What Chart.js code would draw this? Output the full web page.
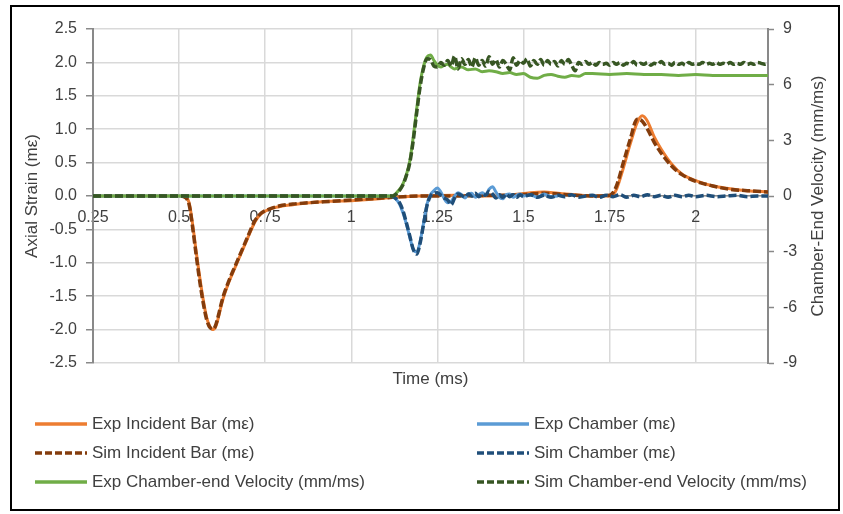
<!DOCTYPE html>
<html>
<head>
<meta charset="utf-8">
<script src="https://cdn.jsdelivr.net/npm/chart.js@4/dist/chart.umd.min.js"></script>
<style>
  html, body { margin: 0; padding: 0; background: #fff; }
  body { width: 843px; height: 514px; position: relative; overflow: hidden; font-family: "Liberation Sans", Arial, sans-serif; }
  #wrap { position: absolute; left: 0; top: 0; width: 843px; height: 395px; }
  #frame { position: absolute; left: 10px; top: 5px; width: 830px; height: 506px; border: 2.5px solid #000; box-sizing: border-box; pointer-events: none; }
  #legend { position: absolute; left: 0; top: 0; width: 843px; height: 514px; pointer-events: none; }
  .li { position: absolute; display: flex; align-items: center; height: 24px; font-size: 17px; color: #404040; white-space: nowrap; }
  .li svg { margin-right: 5px; }
</style>
</head>
<body>
<div id="wrap"><canvas id="c" width="843" height="395"></canvas></div>
<div id="legend"></div>
<div id="frame"></div>
<script>
// ---------- Data ----------
const xTicks = [0.25, 0.5, 0.75, 1, 1.25, 1.5, 1.75, 2];
const xTickLabels = ['0.25', '0.5', '0.75', '1', '1.25', '1.5', '1.75', '2'];
const yTicks = [-2.5, -2, -1.5, -1, -0.5, 0, 0.5, 1, 1.5, 2, 2.5];
const yTickLabels = ['-2.5', '-2.0', '-1.5', '-1.0', '-0.5', '0.0', '0.5', '1.0', '1.5', '2.0', '2.5'];
const y2Ticks = [-9, -6, -3, 0, 3, 6, 9];
const y2TickLabels = ['-9', '-6', '-3', '0', '3', '6', '9'];

// Incident bar strain (mε)
const tInc = [0.25, 0.50, 0.52, 0.53, 0.54, 0.55, 0.56, 0.57, 0.58, 0.59,
  0.60, 0.605, 0.61, 0.615, 0.62, 0.625, 0.63, 0.64, 0.65, 0.66,
  0.67, 0.68, 0.69, 0.70, 0.71, 0.72, 0.73, 0.74, 0.76, 0.79,
  0.83, 0.88, 0.94, 1.00, 1.06, 1.12, 1.20, 1.30, 1.40, 1.47,
  1.52, 1.56, 1.60, 1.65, 1.70, 1.75, 1.76, 1.77, 1.79, 1.81,
  1.83, 1.845, 1.86, 1.88, 1.90, 1.93, 1.96, 2.00, 2.05, 2.10,
  2.15, 2.21];
const expIncident = [0, 0, -0.02, -0.12, -0.45, -0.85, -1.22, -1.55, -1.82, -1.96,
  -2.0, -1.97, -1.9, -1.8, -1.69, -1.59, -1.5, -1.35, -1.22, -1.1,
  -0.98, -0.86, -0.74, -0.62, -0.5, -0.39, -0.31, -0.26, -0.2, -0.16,
  -0.13, -0.1, -0.08, -0.07, -0.05, -0.02, 0, 0.01, 0, 0.02,
  0.05, 0.06, 0.04, 0.02, 0, 0, 0.02, 0.1, 0.42, 0.78,
  1.1, 1.2, 1.12, 0.88, 0.7, 0.48, 0.33, 0.23, 0.15, 0.11,
  0.08, 0.06];
const simIncident = [0, 0, -0.03, -0.15, -0.5, -0.9, -1.28, -1.6, -1.85, -1.97,
  -1.99, -1.95, -1.87, -1.77, -1.66, -1.56, -1.47, -1.33, -1.2, -1.08,
  -0.96, -0.84, -0.72, -0.6, -0.48, -0.37, -0.3, -0.25, -0.2, -0.15,
  -0.12, -0.1, -0.08, -0.06, -0.04, -0.02, 0, 0, 0.01, 0.01,
  0.03, 0.04, 0.03, 0.01, 0, 0.01, 0.05, 0.15, 0.5, 0.85,
  1.15, 1.12, 1.0, 0.8, 0.64, 0.45, 0.32, 0.22, 0.15, 0.1,
  0.08, 0.06];

// Chamber strain (mε)
const tChamExp = [0.25, 1.11, 1.12, 1.13, 1.14, 1.15, 1.16, 1.17, 1.18, 1.19,
  1.20, 1.21, 1.22, 1.23, 1.24, 1.25, 1.26, 1.27, 1.28, 1.29,
  1.30, 1.31, 1.32, 1.33, 1.34, 1.35, 1.36, 1.37, 1.38, 1.39,
  1.40, 1.41, 1.42, 1.43, 1.44, 1.45, 1.46, 1.47, 1.48, 1.49,
  1.50, 1.52, 1.54, 1.56, 1.58, 1.60];
const expChamber = [0, 0, -0.01, -0.05, -0.12, -0.25, -0.42, -0.62, -0.8, -0.84,
  -0.68, -0.4, -0.12, 0.02, 0.08, 0.12, 0.06, -0.04, -0.1, -0.08,
  0, 0.05, 0.02, -0.03, 0.03, 0.04, -0.02, 0.02, 0.05, 0.02,
  0.1, 0.14, 0.06, -0.02, -0.04, 0.02, 0.03, -0.02, 0.01, 0.03,
  0, 0.02, -0.02, 0.03, -0.01, 0];
const tChamSim = [0.25, 1.11, 1.12, 1.13, 1.14, 1.15, 1.16, 1.17, 1.18, 1.19,
  1.20, 1.21, 1.22, 1.23, 1.24, 1.25, 1.26, 1.27, 1.28, 1.29,
  1.30, 1.31, 1.32, 1.33, 1.34, 1.35, 1.36, 1.37, 1.38, 1.39,
  1.40, 1.41, 1.42, 1.43, 1.44, 1.45, 1.46, 1.47, 1.48, 1.49,
  1.50, 1.52, 1.54, 1.56, 1.58, 1.60, 1.62, 1.64, 1.66, 1.68,
  1.70, 1.72, 1.74, 1.76, 1.78, 1.80, 1.82, 1.84, 1.86, 1.88,
  1.90, 1.92, 1.94, 1.96, 1.98, 2.00, 2.03, 2.06, 2.09, 2.12,
  2.15, 2.18, 2.21];
const simChamber = [0, 0, -0.01, -0.04, -0.1, -0.22, -0.4, -0.6, -0.8, -0.87,
  -0.7, -0.42, -0.14, 0, 0.04, 0.05, 0.01, -0.03, -0.06, -0.13,
  -0.03, 0.03, 0.01, -0.02, 0.03, 0, 0.04, -0.01, 0.03, 0.01,
  0.07, 0.03, -0.03, 0.02, -0.02, 0.03, -0.01, 0.02, -0.02, 0.02,
  -0.01, 0.02, -0.02, 0.01, -0.02, 0.01, -0.01, 0.02, -0.02, 0,
  0.01, -0.02, 0.01, -0.01, 0.02, -0.02, 0.01, -0.01, 0.02, -0.01,
  0.01, -0.02, 0.01, -0.01, 0.01, -0.01, 0.01, -0.01, 0, 0.01,
  -0.01, 0, 0];

// Chamber-end velocity (mm/ms)
const tVelExp = [0.25, 1.11, 1.12, 1.13, 1.14, 1.15, 1.16, 1.17, 1.18, 1.19,
  1.20, 1.21, 1.22, 1.23, 1.24, 1.25, 1.26, 1.27, 1.28, 1.29,
  1.30, 1.32, 1.34, 1.36, 1.38, 1.40, 1.42, 1.44, 1.46, 1.48,
  1.50, 1.52, 1.54, 1.56, 1.58, 1.60, 1.62, 1.64, 1.66, 1.68,
  1.70, 1.75, 1.80, 1.85, 1.90, 1.95, 2.00, 2.05, 2.10, 2.15,
  2.21];
const expVelocity = [0, 0, 0, 0.15, 0.35, 0.65, 1.15, 1.9, 3.2, 4.7,
  6.1, 7.0, 7.5, 7.6, 7.3, 7.05, 6.95, 7.05, 7.1, 6.95,
  6.85, 6.95, 6.8, 6.85, 6.7, 6.75, 6.7, 6.6, 6.65, 6.55,
  6.6, 6.4, 6.35, 6.5, 6.55, 6.45, 6.4, 6.5, 6.45, 6.6,
  6.6, 6.55, 6.6, 6.55, 6.55, 6.5, 6.55, 6.5, 6.5, 6.5,
  6.5];
const tVelSim = [0.25, 1.11,
  1.12, 1.13, 1.14, 1.15, 1.16, 1.17, 1.18, 1.19, 1.20, 1.21,
  1.22, 1.23, 1.24, 1.25, 1.26, 1.27, 1.28, 1.29, 1.30, 1.31,
  1.32, 1.33, 1.34, 1.35, 1.36, 1.37, 1.38, 1.39, 1.40, 1.41,
  1.42, 1.43, 1.44, 1.45, 1.46, 1.47, 1.48, 1.49, 1.50, 1.51,
  1.52, 1.53, 1.54, 1.55, 1.56, 1.57, 1.58, 1.59, 1.60, 1.61,
  1.62, 1.63, 1.64, 1.65, 1.66, 1.67, 1.68, 1.69, 1.70, 1.71,
  1.72, 1.73, 1.74, 1.75, 1.76, 1.77, 1.78, 1.79, 1.80, 1.81,
  1.82, 1.83, 1.84, 1.85, 1.86, 1.87, 1.88, 1.89, 1.90, 1.91,
  1.92, 1.93, 1.94, 1.95, 1.96, 1.97, 1.98, 1.99, 2.00, 2.01,
  2.02, 2.03, 2.04, 2.05, 2.06, 2.07, 2.08, 2.09, 2.10, 2.11,
  2.12, 2.13, 2.14, 2.15, 2.16, 2.17, 2.18, 2.19, 2.20, 2.21];
const simVelocity = [0, 0,
  0, 0.1, 0.3, 0.6, 1.1, 1.8, 3.0, 4.5, 5.9, 6.9,
  7.4, 7.35, 7.0, 6.95, 7.2, 7.05, 7.3, 7.0, 7.55, 6.85,
  7.4, 7.1, 7.35, 6.95, 7.45, 7.05, 7.3, 7.0, 7.5, 7.1,
  7.35, 6.95, 7.3, 7.1, 6.8, 7.45, 7.05, 7.3, 7.15, 7.4,
  7.0, 7.3, 7.1, 7.35, 7.05, 7.3, 7.1, 7.25, 7.0, 7.3,
  7.1, 7.35, 7.05, 6.75, 7.2, 7.1, 7.25, 7.1, 7.2, 7.05,
  7.2, 7.1, 7.15, 7.05, 7.2, 7.1, 7.2, 7.05, 7.15, 7.1,
  7.25, 7.05, 7.15, 7.1, 7.2, 7.05, 7.15, 7.1, 7.25, 7.1,
  7.15, 7.05, 7.2, 7.1, 7.15, 7.05, 7.2, 7.1, 7.15, 7.1,
  7.2, 7.1, 7.15, 7.1, 7.2, 7.1, 7.15, 7.1, 7.2, 7.1,
  7.15, 7.1, 7.2, 7.1, 7.15, 7.1, 7.2, 7.15, 7.1, 7.15];

const seriesLabels = ['Exp Incident Bar (mε)', 'Sim Incident Bar (mε)', 'Exp Chamber (mε)',
  'Sim Chamber (mε)', 'Exp Chamber-end Velocity (mm/ms)', 'Sim Chamber-end Velocity (mm/ms)'];

// ---------- Chart ----------
function pts(t, v) { return t.map((x, i) => ({ x: x, y: v[i] })); }

const FONT = '"Liberation Sans", Arial, sans-serif';
Chart.defaults.font.family = FONT;
const AXIS = '#898989', GRID = '#d9d9d9', TXT = '#404040';
const DASH = [8, 3];

function ds(label, t, v, color, dashed, axis, order) {
  return {
    label: label, data: pts(t, v), borderColor: color, backgroundColor: color,
    borderWidth: dashed ? 3.5 : 3, borderDash: dashed ? DASH : [],
    pointRadius: 0, cubicInterpolationMode: 'monotone', fill: false,
    xAxisID: 'x', yAxisID: axis, order: order
  };
}

const datasets = [
  ds(seriesLabels[0], tInc, expIncident, '#ed7d31', false, 'y', 5),
  ds(seriesLabels[1], tInc, simIncident, '#843c0c', true, 'y', 4),
  ds(seriesLabels[2], tChamExp, expChamber, '#5b9bd5', false, 'y', 3),
  ds(seriesLabels[3], tChamSim, simChamber, '#1f4e79', true, 'y', 2),
  ds(seriesLabels[4], tVelExp, expVelocity, '#70ad47', false, 'y2', 1),
  ds(seriesLabels[5], tVelSim, simVelocity, '#375623', true, 'y2', 0)
];

const rightTitle = {
  id: 'rightTitle',
  afterDraw(chart) {
    const ctx = chart.ctx, a = chart.chartArea;
    ctx.save();
    ctx.translate(818, (a.top + a.bottom) / 2);
    ctx.rotate(-Math.PI / 2);
    ctx.font = '17px ' + FONT;
    ctx.fillStyle = TXT;
    ctx.textAlign = 'center';
    ctx.textBaseline = 'middle';
    ctx.fillText('Chamber-End Velocity (mm/ms)', 0, 0);
    ctx.restore();
  }
};

const chart = new Chart(document.getElementById('c'), {
  type: 'line',
  data: { datasets: datasets },
  plugins: [rightTitle],
  options: {
    responsive: false, animation: false, devicePixelRatio: 1,
    layout: { padding: { top: 29, left: 0, right: 0, bottom: 0 } },
    plugins: { legend: { display: false }, tooltip: { enabled: false } },
    scales: {
      x: {
        type: 'linear', position: { y: 0 }, min: 0.25, max: 2.21,
        afterBuildTicks: s => { s.ticks = xTicks.map(v => ({ value: v })); },
        ticks: { callback: (v) => xTickLabels[xTicks.indexOf(v)] ?? '', font: { size: 16 }, color: TXT, padding: 12, maxRotation: 0, autoSkip: false },
        grid: { color: GRID, lineWidth: 1.5, drawTicks: false },
        border: { display: true, color: AXIS, width: 1.5 }
      },
      xt: {
        type: 'linear', position: 'bottom', min: 0.25, max: 2.21,
        ticks: { display: false }, grid: { display: false, drawTicks: false }, border: { display: false },
        title: { display: true, text: 'Time (ms)', font: { size: 17 }, color: TXT, padding: { top: 0, bottom: 5 } },
        afterFit: s => { s.height = 32; }
      },
      y: {
        type: 'linear', position: 'left', min: -2.5, max: 2.5,
        afterBuildTicks: s => { s.ticks = yTicks.map(v => ({ value: v })); },
        ticks: { callback: (v) => yTickLabels[yTicks.indexOf(v)] ?? '', font: { size: 16 }, color: TXT, padding: 9 },
        grid: { color: GRID, lineWidth: 1.5, tickColor: AXIS, tickLength: 7, tickWidth: 1.5 },
        border: { display: true, color: AXIS, width: 2 },
        title: { display: true, text: 'Axial Strain (mε)', font: { size: 17 }, color: TXT, padding: { top: 22, bottom: 0 } },
        afterFit: s => { s.width = 93; }
      },
      y2: {
        type: 'linear', position: 'right', min: -9, max: 9,
        afterBuildTicks: s => { s.ticks = y2Ticks.map(v => ({ value: v })); },
        ticks: { callback: (v) => y2TickLabels[y2Ticks.indexOf(v)] ?? '', font: { size: 16 }, color: TXT, padding: 9 },
        grid: { drawOnChartArea: false, tickColor: AXIS, tickLength: 6, tickWidth: 1.5 },
        border: { display: true, color: AXIS, width: 2 },
        afterFit: s => { s.width = 75; }
      }
    }
  }
});

// ---------- Legend (two columns, built from the datasets) ----------
const legendPos = [[0, 0], [0, 1], [1, 0], [1, 1], [0, 2], [1, 2]]; // [col,row] per dataset
const colX = [35, 477], rowY = [424, 453, 482];
const legendEl = document.getElementById('legend');
chart.data.datasets.forEach((d, i) => {
  const [c, r] = legendPos[i];
  const item = document.createElement('div');
  item.className = 'li';
  item.style.left = colX[c] + 'px';
  item.style.top = (rowY[r] - 12) + 'px';
  const dash = d.borderDash && d.borderDash.length ? 'stroke-dasharray="7 3"' : '';
  item.innerHTML = '<svg width="52" height="6"><line x1="0" y1="3" x2="52" y2="3" stroke="' + d.borderColor +
    '" stroke-width="3.5" ' + dash + '/></svg><span>' + d.label + '</span>';
  legendEl.appendChild(item);
});
</script>
</body>
</html>
